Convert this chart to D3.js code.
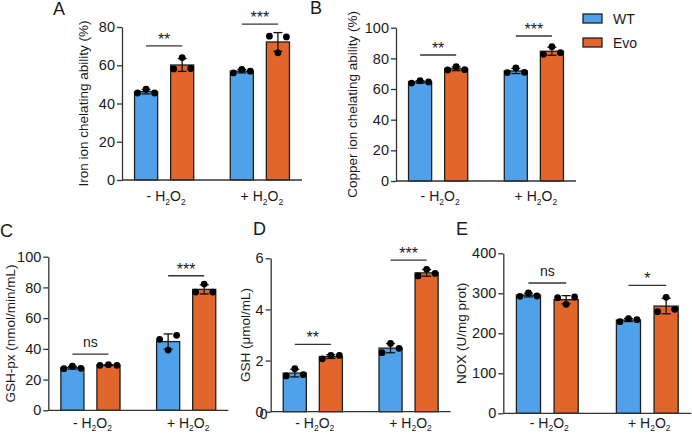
<!DOCTYPE html>
<html>
<head>
<meta charset="utf-8">
<script src="https://cdn.jsdelivr.net/npm/d3@7"></script>
<style>
body { margin: 0; background: #fff; }
svg { display: block; }
text { font-family: "Liberation Sans", Arial, Helvetica, sans-serif; fill: #1a1a1a; }
</style>
</head>
<body>
<svg id="chart" width="692" height="434"></svg>
<script>
/* data */
var groups = ["-", "+"];
var series = ["WT", "Evo"];
var colors = {WT: "#4fa1ea", Evo: "#e0662c"};

// three replicates per bar, order: WT -H2O2, Evo -H2O2, WT +H2O2, Evo +H2O2
var ironVals = [[45.5, 47.5, 45.5], [58.1, 64.0, 58.3], [56.0, 57.8, 56.9], [75.2, 66.5, 74.8]];
var copperVals = [[63.9, 65.4, 64.6], [72.4, 74.6, 72.6], [70.7, 73.7, 70.9], [82.6, 87.6, 83.7]];
var gshpxVals = [[27.1, 28.8, 27.3], [29.3, 29.7, 29.3], [46.2, 39.2, 48.8], [77.0, 82.2, 77.0]];
var gshVals = [[1.40, 1.68, 1.45], [2.07, 2.20, 2.20], [2.31, 2.67, 2.48], [5.31, 5.57, 5.41]];
var noxVals = [[292.5, 300.8, 293.3], [289.0, 272.5, 290.8], [229.0, 236.5, 234.0], [254.0, 290.0, 260.0]];

var ironSig = ["**", "***"], ironSigY = [70.1, 81.5];
var copperSig = ["**", "***"], copperSigY = [82.2, 94.6];
var gshpxSig = ["ns", "***"], gshpxSigY = [36.6, 87.6];
var gshSig = ["**", "***"], gshSigY = [2.63, 5.93];
var noxSig = ["ns", "*"], noxSigY = [325.8, 320];

var ironTicks = [0, 20, 40, 60, 80];
var copperTicks = [0, 20, 40, 60, 80, 100];
var gshpxTicks = [0, 20, 40, 60, 80, 100];
var gshTicks = [0, 2, 4, 6];
var noxTicks = [0, 100, 200, 300, 400];

var panels = [
  {letter: "A", lx: 53, ly: 15, title: "Iron ion chelating ability  (%)", vals: ironVals, sig: ironSig, sigY: ironSigY, ticks: ironTicks,
   x: 122, top: 27, bottom: 180, w: 180, tx: 83, xly: 201},
  {letter: "B", lx: 310, ly: 14, title: "Copper ion chelating ability (%)", vals: copperVals, sig: copperSig, sigY: copperSigY, ticks: copperTicks,
   x: 396, top: 27.7, bottom: 181, w: 180, tx: 352, xly: 201},
  {letter: "C", lx: 0, ly: 237, title: "GSH-px (nmol/min/mL)", vals: gshpxVals, sig: gshpxSig, sigY: gshpxSigY, ticks: gshpxTicks,
   x: 48.3, top: 256.7, bottom: 410.3, w: 180, tx: 10, xly: 427.5},
  {letter: "D", lx: 253, ly: 235, title: "GSH (μmol/mL)", vals: gshVals, sig: gshSig, sigY: gshSigY, ticks: gshTicks,
   x: 270.7, top: 258.3, bottom: 411.7, w: 180, tx: 245, xly: 427.5, ghostZero: true},
  {letter: "E", lx: 456, ly: 235, title: "NOX (U/mg prot)", vals: noxVals, sig: noxSig, sigY: noxSigY, ticks: noxTicks,
   x: 503.3, top: 253.3, bottom: 413.3, w: 188, tx: 461, xly: 427.5}
];

var svg = d3.select("#chart");
var axisColor = "#333";

panels.forEach(function(p){
  var g = svg.append("g");

  var y = d3.scaleLinear()
    .domain([0, d3.max(p.ticks)])
    .range([p.bottom, p.top]);

  var x0 = d3.scaleBand()
    .domain(groups)
    .range([p.x, p.x + p.w])
    .paddingInner(0.382)
    .paddingOuter(0.131);

  var x1 = d3.scaleBand()
    .domain(series)
    .range([0, x0.bandwidth()])
    .paddingInner(0.36)
    .paddingOuter(0);

  // bars table
  var rows = [];
  groups.forEach(function(gr, gi){
    series.forEach(function(s, si){
      var v = p.vals[gi * 2 + si];
      rows.push({group: gr, series: s, pts: v, mean: d3.mean(v), sd: d3.deviation(v)});
    });
  });

  // bars
  g.selectAll("rect.bar").data(rows).enter().append("rect")
    .attr("class", "bar")
    .attr("x", function(d){ return x0(d.group) + x1(d.series); })
    .attr("width", x1.bandwidth())
    .attr("y", function(d){ return y(d.mean); })
    .attr("height", function(d){ return y(0) - y(d.mean); })
    .attr("fill", function(d){ return colors[d.series]; })
    .attr("stroke", "#1f1f1f")
    .attr("stroke-width", 1.3);

  // error bars (SD)
  var cx = function(d){ return x0(d.group) + x1(d.series) + x1.bandwidth() / 2; };
  var eb = g.selectAll("g.eb").data(rows).enter().append("g").attr("class", "eb")
    .attr("stroke", "#111").attr("stroke-width", 1.3);
  eb.append("line")
    .attr("x1", cx).attr("x2", cx)
    .attr("y1", function(d){ return y(d.mean - d.sd); })
    .attr("y2", function(d){ return y(d.mean + d.sd); });
  eb.append("line")
    .attr("x1", function(d){ return cx(d) - 4.5; }).attr("x2", function(d){ return cx(d) + 4.5; })
    .attr("y1", function(d){ return y(d.mean + d.sd); })
    .attr("y2", function(d){ return y(d.mean + d.sd); });
  eb.append("line")
    .attr("x1", function(d){ return cx(d) - 4.5; }).attr("x2", function(d){ return cx(d) + 4.5; })
    .attr("y1", function(d){ return y(d.mean - d.sd); })
    .attr("y2", function(d){ return y(d.mean - d.sd); });

  // points
  var offs = [-8.5, 0, 8.5];
  rows.forEach(function(d){
    g.selectAll(null).data(d.pts).enter().append("circle")
      .attr("cx", function(v, i){ return cx(d) + offs[i]; })
      .attr("cy", function(v){ return y(v); })
      .attr("r", 3.4)
      .attr("fill", "#000");
  });

  // y axis
  var ya = g.append("g")
    .attr("transform", "translate(" + p.x + ",0)")
    .call(d3.axisLeft(y).tickValues(p.ticks).tickFormat(d3.format("d"))
      .tickSize(5).tickPadding(2).tickSizeOuter(0));
  ya.select(".domain").attr("stroke", axisColor).attr("stroke-width", 1.3);
  ya.selectAll(".tick line").attr("stroke", axisColor).attr("stroke-width", 1.3);
  ya.selectAll(".tick text").attr("font-size", 14.5).attr("fill", "#1a1a1a")
    .style("font-family", "'Liberation Sans', Arial, sans-serif");
  if(p.ghostZero){
    g.append("text").attr("x", p.x - 3).attr("y", y(0) + 7)
      .attr("text-anchor", "end").attr("font-size", 14.5).text("0");
  }

  // x axis line
  g.append("line")
    .attr("x1", p.x).attr("x2", p.x + p.w)
    .attr("y1", y(0)).attr("y2", y(0))
    .attr("stroke", axisColor).attr("stroke-width", 1.3);

  // x labels
  groups.forEach(function(gr){
    var t = g.append("text")
      .attr("x", x0(gr) + x0.bandwidth() / 2 + 2)
      .attr("y", p.xly)
      .attr("text-anchor", "middle")
      .attr("font-size", 14);
    t.append("tspan").text(gr + " H");
    t.append("tspan").attr("dy", 3.5).attr("font-size", 8.5).text("2");
    t.append("tspan").attr("dy", -3.5).text("O");
    t.append("tspan").attr("dy", 3.5).attr("font-size", 8.5).text("2");
  });

  // significance
  groups.forEach(function(gr, gi){
    var xa = x0(gr) + x1("WT") + x1.bandwidth() / 2;
    var xb = x0(gr) + x1("Evo") + x1.bandwidth() / 2;
    var sy = y(p.sigY[gi]);
    g.append("line")
      .attr("x1", xa).attr("x2", xb).attr("y1", sy).attr("y2", sy)
      .attr("stroke", "#333").attr("stroke-width", 1.3);
    var isNs = p.sig[gi] == "ns";
    g.append("text")
      .attr("x", (xa + xb) / 2)
      .attr("y", isNs ? sy - 7 : sy - 1)
      .attr("text-anchor", "middle")
      .attr("font-size", isNs ? 14 : 16)
      .text(p.sig[gi]);
  });

  // y title
  g.append("text")
    .attr("transform", "translate(" + p.tx + "," + ((p.top + p.bottom) / 2) + ") rotate(-90)")
    .attr("text-anchor", "middle")
    .attr("dy", "0.35em")
    .attr("font-size", 13.5)
    .text(p.title);

  // panel letter
  g.append("text")
    .attr("x", p.lx).attr("y", p.ly)
    .attr("font-size", 18)
    .text(p.letter);
});

// legend
var legend = svg.append("g").attr("transform", "translate(583,14)");
series.forEach(function(s, i){
  legend.append("rect")
    .attr("x", 0).attr("y", i * 24)
    .attr("width", 19).attr("height", 9)
    .attr("fill", colors[s])
    .attr("stroke", "#1f1f1f").attr("stroke-width", 1.3);
  legend.append("text")
    .attr("x", 30).attr("y", i * 24 + 10)
    .attr("font-size", 14)
    .text(s);
});
</script>
</body>
</html>
